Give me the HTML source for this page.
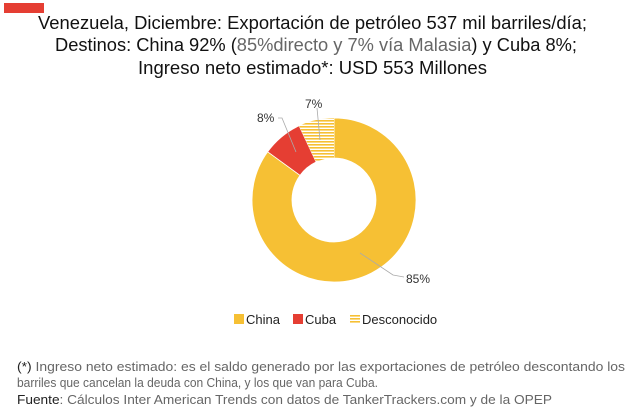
<!DOCTYPE html>
<html><head><meta charset="utf-8"><style>
html,body{margin:0;padding:0;background:#fff;}
svg{display:block;font-family:"Liberation Sans",sans-serif;}
</style></head><body>
<svg width="640" height="411" viewBox="0 0 640 411" xmlns="http://www.w3.org/2000/svg">
<defs>
<pattern id="h" width="6" height="3" patternUnits="userSpaceOnUse">
<rect width="6" height="3" fill="#fff"/><rect width="6" height="1.6" fill="#f6c034"/>
</pattern>
</defs>
<rect x="4" y="3" width="40" height="10" fill="#e53e33"/>
<g font-size="18" fill="#111" text-anchor="start">
<text x="38" y="29" textLength="549" lengthAdjust="spacingAndGlyphs">Venezuela, Diciembre: Exportación de petróleo 537 mil barriles/día;</text>
<text x="55" y="51" textLength="522" lengthAdjust="spacingAndGlyphs">Destinos: China 92% (<tspan fill="#666">85%directo y 7% vía Malasia</tspan>) y Cuba 8%;</text>
<text x="138" y="74" textLength="349" lengthAdjust="spacingAndGlyphs">Ingreso neto estimado*: USD 553 Millones</text>
</g>
<path d="M334,118 A82,82 0 1 1 267.7,151.8 L300,175.3 A42,42 0 1 0 334,158 Z" fill="#f6c034" stroke="#fff" stroke-width="0.8"/>
<path d="M267.7,151.8 A82,82 0 0 1 299.1,125.8 L316.1,162 A42,42 0 0 0 300,175.3 Z" fill="#e53e33" stroke="#fff" stroke-width="0.8"/>
<path d="M299.1,125.8 A82,82 0 0 1 334,118 L334,158 A42,42 0 0 0 316.1,162 Z" fill="url(#h)"/>
<g stroke="#aaa" stroke-width="0.8" fill="none">
<polyline points="278,118 282,118 296,152"/>
<polyline points="317,108 320,140"/>
<polyline points="360,253 393,275 404,277"/>
</g>
<g font-size="12" fill="#333">
<text x="257" y="122">8%</text>
<text x="305" y="108">7%</text>
<text x="406" y="283">85%</text>
</g>
<g font-size="13" fill="#222">
<rect x="234" y="314" width="10" height="10" fill="#f6c034"/>
<text x="246" y="324">China</text>
<rect x="293" y="314" width="10" height="10" fill="#e53e33"/>
<text x="305" y="324">Cuba</text>
<rect x="350" y="314" width="10" height="10" fill="url(#h)"/>
<text x="362" y="324">Desconocido</text>
</g>
<g font-size="13" fill="#666">
<text x="17" y="371" textLength="608" lengthAdjust="spacingAndGlyphs"><tspan fill="#222">(*)</tspan>  Ingreso neto estimado: es el saldo generado por las exportaciones de petróleo descontando los</text>
<text x="17" y="387" textLength="361" lengthAdjust="spacingAndGlyphs">barriles que cancelan la deuda con China, y los que van para Cuba.</text>
<text x="17" y="404" textLength="535" lengthAdjust="spacingAndGlyphs"><tspan fill="#222">Fuente</tspan>: Cálculos Inter American Trends con datos de TankerTrackers.com y de la OPEP</text>
</g>
</svg>
</body></html>
